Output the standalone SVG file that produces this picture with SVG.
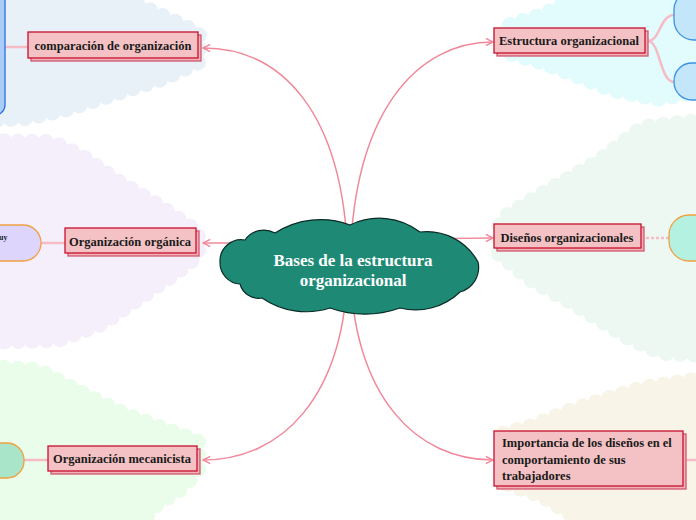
<svg xmlns="http://www.w3.org/2000/svg" width="696" height="520" viewBox="0 0 696 520">
<defs>
<style>
.bg{stroke-width:16;stroke-dasharray:0 14;stroke-linecap:round;stroke-linejoin:round}
.box{fill:#f4c2c4;stroke:#c8102e;stroke-width:1.3}
.shadow{fill:#f0b3b8;stroke:#d2566e;stroke-width:1.3}
.lbl{font-family:"Liberation Serif",serif;font-weight:bold;font-size:12.5px;fill:#1a1a1a}
.con{fill:none;stroke:#f0889a;stroke-width:1.5}
.sub{fill:none;stroke:#f5bcc6;stroke-width:2.5}
</style>
<marker id="arr" viewBox="0 0 10 10" refX="9" refY="5" markerWidth="9" markerHeight="9" markerUnits="userSpaceOnUse" orient="auto">
<path d="M1 1 L9 5 L1 9" fill="none" stroke="#f0889a" stroke-width="1.6"/>
</marker>
</defs>

<g id="backgrounds">
<path class="bg" fill="#e8f1f8" stroke="#e8f1f8" d="M112 -8 L145 8 L180 24 L199 34 L199 62 L165 78 L118 93 L68 109 L28 118 L-10 120 L-10 -8 Z"/>
<path class="bg" fill="#f5effc" stroke="#f5effc" d="M-10 141 L52 142 L82 156 L118 181 L158 205 L198 232 L198 256 L172 276 L137 300 L102 324 L58 340 L-10 342 Z"/>
<path class="bg" fill="#eafcea" stroke="#eafcea" d="M-10 367 L38 370 L82 393 L127 415 L162 428 L198 441 L199 468 L185 486 L155 506 L135 530 L-10 530 Z"/>
<path class="bg" fill="#e2fbfd" stroke="#e2fbfd" d="M585 -8 L705 -8 L705 91 L657 99 L612 90 L572 74 L537 61 L501 51 L501 31 L510 25 L545 14 Z"/>
<path class="bg" fill="#eef8f3" stroke="#eef8f3" d="M705 120 L643 127 L597 162 L545 192 L506 216 L499 226 L499 254 L531 280 L577 306 L630 339 L662 353 L705 355 Z"/>
<path class="bg" fill="#f8f4e8" stroke="#f8f4e8" d="M705 378 L642 388 L577 408 L532 426 L502 434 L501 482 L542 496 L596 530 L705 530 Z"/>
</g>

<g id="connectors">
<path class="con" marker-end="url(#arr)" d="M348 265 C345 110 280 48 203 48"/>
<path class="con" marker-end="url(#arr)" d="M350 265 C353 110 418 42 493 42"/>
<path class="con" marker-end="url(#arr)" d="M300 243 L203 243"/>
<path class="con" marker-end="url(#arr)" d="M400 240 C430 239 460 238 493 238"/>
<path class="con" marker-end="url(#arr)" d="M348 265 C345 400 280 460 203 460"/>
<path class="con" marker-end="url(#arr)" d="M350 265 C353 400 418 460 493 460"/>
<path class="sub" d="M5 47 L28 47"/>
<path class="sub" d="M41 243 L65 243"/>
<path class="sub" d="M24 460 L48 460"/>
<path class="sub" d="M648 41 C660 41 660 15 674 15"/>
<path class="sub" d="M648 41 C660 41 660 82 674 82"/>
<path class="sub" d="M646 238 L669 238" stroke-dasharray="3 2" stroke-width="2"/>
<path class="sub" d="M686 460 L696 460" stroke-width="1.5"/>
</g>

<g id="edge-left-top">
<rect x="-100" y="-20" width="105" height="135" rx="10" fill="#a9cdf7" stroke="#2f6fe0" stroke-width="1.3"/>
</g>
<g id="edge-left-mid">
<rect x="-60" y="225" width="101" height="36" rx="18" fill="#ddd5fb" stroke="#f0a040" stroke-width="1.3"/>
<text x="-1" y="240" font-family="Liberation Serif,serif" font-weight="bold" font-size="8" fill="#1a1a1a">uy</text>
</g>
<g id="edge-left-bottom">
<rect x="-60" y="443" width="84" height="35" rx="17" fill="#a9e6c9" stroke="#f0a040" stroke-width="1.3"/>
</g>
<g id="edge-right-top1">
<rect x="674" y="-10" width="60" height="50" rx="20" fill="#c4e6fb" stroke="#3d93dd" stroke-width="1.3"/>
</g>
<g id="edge-right-top2">
<rect x="674" y="63" width="60" height="37" rx="18" fill="#c4e6fb" stroke="#3d93dd" stroke-width="1.3"/>
</g>
<g id="edge-right-mid">
<rect x="669" y="215" width="60" height="46" rx="20" fill="#b4f1e1" stroke="#f0a040" stroke-width="1.3"/>
</g>

<g id="center">
<path d="M220 262 A21.3 21.3 0 0 1 245 240 A22.8 22.8 0 0 1 275 233 A83.5 83.5 0 0 1 350 225 A66.8 66.8 0 0 1 420 232 A58.3 58.3 0 0 1 478 262 A25.4 25.4 0 0 1 460 292 A64.3 64.3 0 0 1 400 308 A105 105 0 0 1 330 308 A77.8 77.8 0 0 1 262 298 A19.4 19.4 0 0 1 240 284 A21.3 21.3 0 0 1 220 262 Z" fill="#1e8a76" stroke="#0b2b26" stroke-width="1.2"/>
<text x="353" y="266" text-anchor="middle" font-family="Liberation Serif,serif" font-weight="bold" font-size="17" fill="#ffffff">Bases de la estructura</text>
<text x="353" y="286" text-anchor="middle" font-family="Liberation Serif,serif" font-weight="bold" font-size="17" fill="#ffffff">organizacional</text>
</g>

<g id="n-comparacion">
<rect class="shadow" x="31" y="35" width="170" height="26"/>
<rect class="box" x="28" y="32" width="170" height="26"/>
<text class="lbl" x="113" y="50" text-anchor="middle">comparación de organización</text>
</g>
<g id="n-organica">
<rect class="shadow" x="68" y="231" width="131" height="25"/>
<rect class="box" x="65" y="228" width="131" height="25"/>
<text class="lbl" x="130" y="246" text-anchor="middle">Organización orgánica</text>
</g>
<g id="n-mecanicista">
<rect class="shadow" x="51" y="449" width="149" height="25"/>
<rect class="box" x="48" y="446" width="149" height="25"/>
<text class="lbl" x="122" y="463" text-anchor="middle">Organización mecanicista</text>
</g>
<g id="n-estructura">
<rect class="shadow" x="497" y="31" width="151" height="25"/>
<rect class="box" x="494" y="28" width="151" height="25"/>
<text class="lbl" x="569" y="45" text-anchor="middle">Estructura organizacional</text>
</g>
<g id="n-disenos">
<rect class="shadow" x="497" y="227" width="147" height="24"/>
<rect class="box" x="494" y="224" width="147" height="24"/>
<text class="lbl" x="567" y="242" text-anchor="middle">Diseños organizacionales</text>
</g>
<g id="n-importancia">
<rect class="shadow" x="497" y="434" width="189" height="55"/>
<rect class="box" x="494" y="431" width="189" height="55"/>
<text class="lbl" x="502" y="447">Importancia de los diseños en el</text>
<text class="lbl" x="502" y="464">comportamiento de sus</text>
<text class="lbl" x="502" y="480">trabajadores</text>
</g>
</svg>
